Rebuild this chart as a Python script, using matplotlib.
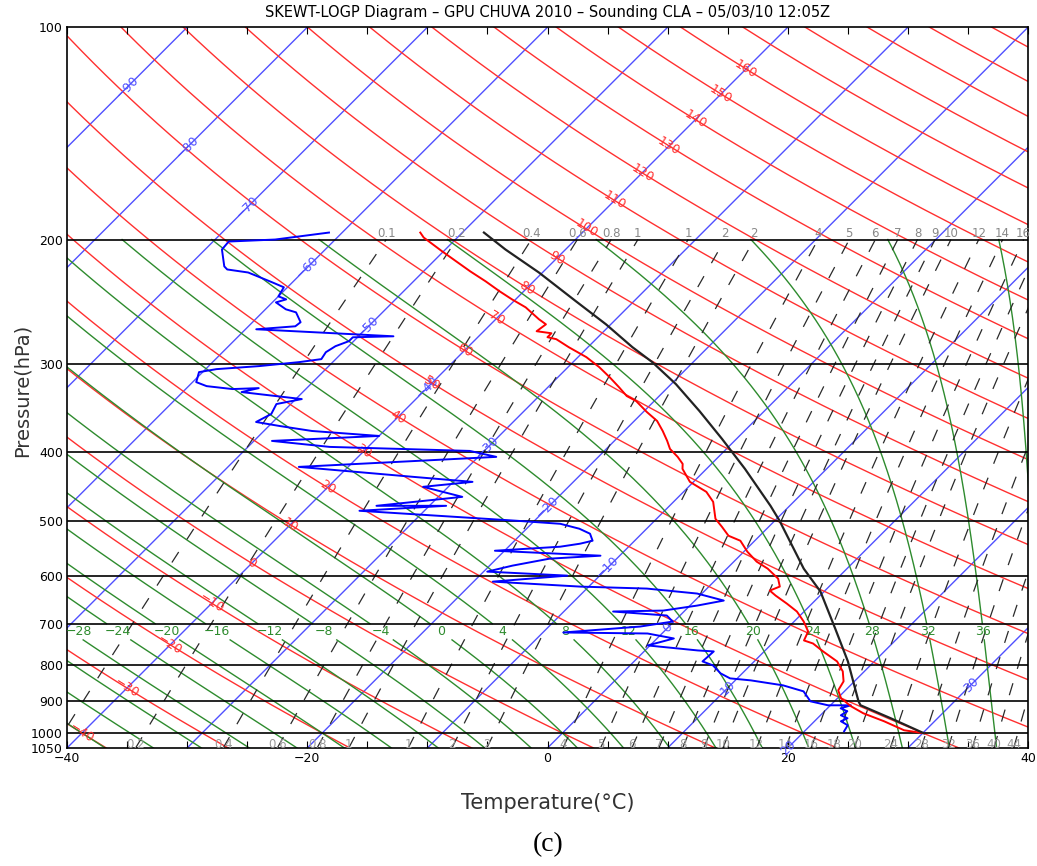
import numpy as np
import matplotlib
matplotlib.use("Agg")
import matplotlib.pyplot as plt
from matplotlib.ticker import NullLocator

# sounding CLA 05/03/10 12:05Z (hPa, degC)
temp_p = [195.5, 198.7, 207.9, 216.9, 221.9, 229.2, 236.8, 243.1, 249.5, 259.4,
          263.7, 269.7, 271.5, 275.0, 276.8, 284.1, 293.5, 303.2, 313.3, 323.6,
          333.2, 338.7, 351.0, 361.4, 373.4, 385.7, 395.9, 406.3, 415.7, 422.5,
          440.8, 455.4, 470.5, 497.2, 510.3, 525.5, 534.1, 553.6, 571.8, 585.0,
          604.4, 620.2, 628.4, 638.7, 655.6, 672.8, 695.1, 718.1, 739.4, 746.7,
          766.3, 791.7, 817.8, 844.9, 870.0, 892.9, 916.5, 937.6, 962.4, 990.9,
          1000.6]
temp_t = [-53.5, -52.8, -50.1, -47.5, -46.1, -44.0, -42.0, -40.3, -38.5, -36.4,
          -35.4, -35.6, -34.2, -34.2, -33.3, -31.6, -29.3, -27.4, -25.7, -24.1,
          -22.7, -21.5, -19.7, -18.1, -16.8, -15.6, -14.7, -13.4, -12.4, -12.0,
          -10.3, -8.1, -6.7, -5.1, -3.9, -2.6, -1.2, 0.3, 1.9, 3.4,
          5.1, 5.9, 5.4, 6.3, 7.9, 9.4, 10.8, 12.0, 12.4, 13.4,
          14.9, 16.9, 18.2, 19.1, 19.4, 20.3, 21.8, 23.4, 25.8, 28.2,
          30.1]

dew_p = [195.5, 200.0, 201.3, 206.6, 218.3, 220.5, 222.7, 229.9, 233.7, 240.7,
         243.1, 245.5, 251.1, 253.6, 261.9, 265.4, 268.0, 274.2, 275.1, 278.6,
         283.2, 288.8, 295.4, 298.3, 302.2, 305.2, 308.2, 318.4, 322.6, 325.7,
         324.7, 328.9, 336.5, 342.0, 353.3, 362.6, 367.4, 373.4, 379.5, 385.7,
         393.3, 398.5, 406.3, 419.8, 433.6, 440.8, 448.0, 462.9, 476.6, 476.6,
         484.4, 500.4, 505.4, 513.6, 522.0, 534.1, 539.3, 544.6, 551.8, 560.8,
         566.3, 579.3, 590.7, 598.5, 610.3, 620.3, 624.3, 634.5, 649.2, 659.9,
         670.7, 672.8, 681.6, 695.2, 706.6, 720.4, 722.8, 734.6, 751.5, 763.9,
         766.3, 791.7, 802.1, 823.2, 836.7, 842.2, 856.0, 872.9, 901.7, 913.5,
         913.5, 922.5, 931.5, 943.7, 953.0, 962.3, 975.0, 994.2]
dew_t = [-61.1, -65.0, -68.7, -68.6, -67.0, -66.5, -64.5, -61.7, -60.3, -60.0,
         -59.1, -59.7, -58.3, -57.2, -56.0, -56.1, -59.1, -47.1, -50.4, -50.4,
         -51.1, -51.4, -51.2, -52.8, -55.8, -59.1, -60.3, -59.7, -58.5, -56.1,
         -54.0, -55.1, -49.5, -51.2, -50.8, -51.4, -49.1, -46.0, -40.0, -48.5,
         -43.2, -31.2, -28.5, -44.1, -33.8, -28.4, -32.1, -28.0, -34.4, -28.6,
         -35.4, -21.5, -17.6, -15.6, -14.3, -13.5, -14.3, -15.7, -20.8, -11.6,
         -15.6, -18.1, -19.7, -12.7, -18.4, -10.7, -5.0, -0.4, 2.4, 0.6,
         -1.8, -5.9, -1.1, -0.1, -2.4, -8.3, -1.2, 1.4, -0.2, 4.4,
         5.8, 5.7, 6.9, 8.2, 9.4, 11.3, 14.4, 16.6, 18.0, 19.8,
         21.7, 21.1, 21.9, 21.7, 22.5, 22.2, 23.1, 23.3]

parcel_p = [195.5, 206.6, 222.7, 244.7, 263.7, 284.1, 298.3, 320.5, 349.9, 383.2,
            422.5, 476.6, 500.4, 585.0, 630.4, 711.1, 791.7, 901.6, 913.4, 953.0,
            1000.6]
parcel_t = [-48.2, -45.0, -40.3, -34.8, -30.4, -26.3, -23.4, -19.6, -15.4, -11.2,
            -6.8, -1.6, 0.4, 6.4, 9.7, 14.0, 17.8, 22.0, 22.5, 26.1,
            30.1]

# background line sets
isotherms = list(range(-100, 50, 10))
isotherm_labels = [-90, -80, -70, -60, -50, -40, -30, -20, -10, 0, 10, 20]
dry_adiabats = list(range(-40, 230, 10))
dry_labels = list(range(-40, 170, 10))
moist_adiabats = list(range(-40, 44, 4))
moist_labels = list(range(-28, 40, 4))
mix_ratios = [0.1, 0.2, 0.4, 0.6, 0.8, 1, 1.5, 2, 2.5, 4, 5, 6, 7, 8, 9, 10,
              12, 14, 16, 18, 20, 24, 28, 32, 36, 40, 44]
mix_labels = ["0.1", "0.2", "0.4", "0.6", "0.8", "1", "1", "2", "2", "4", "5", "6",
              "7", "8", "9", "10", "12", "14", "16", "18", "20", "24", "28", "32",
              "36", "40", "44"]
p_levels = [200, 300, 400, 500, 600, 700, 800, 900, 1000]

title = "SKEWT-LOGP Diagram \u2013 GPU CHUVA 2010 \u2013 Sounding CLA \u2013 05/03/10 12:05Z"

W, H = 1037, 866
fig = plt.figure(figsize=(W / 100, H / 100), dpi=100)
ax = fig.add_axes([67 / W, 118 / H, 961 / W, 721 / H])
ax.set_yscale("log")
ax.set_xlim(-40, 40)
ax.set_ylim(1050, 100)

# skew so that isotherms run at 45 degrees on screen
skew = (721 / np.log(1050 / 100)) / (961 / 80)


def sx(t, p):
    return np.asarray(t) + skew * np.log(1050 / np.asarray(p))


def umin(v):
    s = f"{v:g}"
    return s.replace("-", "\u2212")


BLUE = "#5050ff"
RED = "#ff3030"
GREEN = "#2e8b2e"

p_full = np.geomspace(1050, 100, 300)

# isotherms
for t in isotherms:
    ax.plot(sx(t, p_full), p_full, color=BLUE, lw=1.0, zorder=1)

# dry adiabats
for th in dry_adiabats:
    t = (th + 273.15) * (p_full / 1000) ** 0.286 - 273.15
    ax.plot(sx(t, p_full), p_full, color=RED, lw=1.0, zorder=1)


# moist (pseudo) adiabats
def moist_lapse(tk, p):
    es = 6.112 * np.exp(17.67 * (tk - 273.15) / (tk - 29.65))
    rs = 0.622 * es / (p - es)
    num = 287.04 * tk + 2.501e6 * rs
    den = 1005.7 + 2.501e6 ** 2 * rs * 0.622 / (287.04 * tk ** 2)
    return num / den / p


def integrate(p_arr, t0):
    out = [t0]
    t = t0
    for i in range(len(p_arr) - 1):
        dp = p_arr[i + 1] - p_arr[i]
        k1 = moist_lapse(t, p_arr[i])
        k2 = moist_lapse(t + k1 * dp, p_arr[i + 1])
        t = t + 0.5 * (k1 + k2) * dp
        out.append(t)
    return np.array(out)


t0 = np.array(moist_adiabats, dtype=float) + 273.15
p_up = np.arange(1000, 199, -2.0)
p_dn = np.arange(1000, 1051, 2.0)
t_up = integrate(p_up, t0)
t_dn = integrate(p_dn, t0)
p_m = np.concatenate([p_dn[::-1], p_up[1:]])
t_m = np.concatenate([t_dn[::-1], t_up[1:]]) - 273.15

low = p_m >= 737
high = p_m <= 700
for j, thw in enumerate(moist_adiabats):
    xm = sx(t_m[:, j], p_m)
    ax.plot(xm[low], p_m[low], color=GREEN, lw=1.0, zorder=1)
    ax.plot(xm[high], p_m[high], color=GREEN, lw=1.0, zorder=1)
    if thw in moist_labels:
        xl = np.interp(np.log(718), np.log(p_m[::-1]), xm[::-1])
        xl = max(xl, -39.0)
        ax.text(xl, 718, umin(thw), color=GREEN, fontsize=9, ha="center",
                va="center", zorder=5)

# mixing ratio lines
p_ml = np.geomspace(1050, 200, 200)
for w, lab in zip(mix_ratios, mix_labels):
    e = w * p_ml / (622 + w)
    a = np.log(e / 6.112)
    td = 243.5 * a / (17.67 - a)
    xw = sx(td, p_ml)
    ax.plot(xw, p_ml, color="#2a2a2a", lw=0.9, ls=(0, (10, 12)), zorder=2)
    if -40 < xw[-1] < 40.5:
        ax.text(xw[-1], 196, lab, color="#888888", fontsize=8.5, ha="center",
                va="center", zorder=5)
    if -40 < xw[0] < 40 and w >= 0.2:
        ax.text(xw[0], 1037, lab, color="#999999", fontsize=8.5, ha="center",
                va="center", zorder=5)

# pressure levels
for p in p_levels:
    ax.axhline(p, color="black", lw=1.2, zorder=3)

# isotherm labels, along the 45 deg line from the top-left corner
for t in isotherm_labels:
    lp = (np.log(100 * 1050) + (t + 40) / skew) / 2
    pl = np.exp(lp)
    ax.text(sx(t, pl), pl, umin(t), color=BLUE, fontsize=9, rotation=45,
            ha="center", va="center", zorder=5)
ax.text(sx(30, 855), 855, "30", color=BLUE, fontsize=9, rotation=45,
        ha="center", va="center", zorder=5)

# dry adiabat labels, where each crosses -40 C
for th in dry_labels:
    pl = 1000 * (233.15 / (th + 273.15)) ** (1 / 0.286)
    pa = pl * 0.97
    pb = pl * 1.03
    ta = (th + 273.15) * (pa / 1000) ** 0.286 - 273.15
    tb = (th + 273.15) * (pb / 1000) ** 0.286 - 273.15
    d = ax.transData.transform([[sx(ta, pa), pa], [sx(tb, pb), pb]])
    ang = np.degrees(np.arctan2(d[1, 1] - d[0, 1], d[1, 0] - d[0, 0]))
    ax.text(sx(-40, pl), pl, umin(th), color=RED, fontsize=9, rotation=ang,
            ha="center", va="center", zorder=5)

# sounding
ax.plot(sx(dew_t, dew_p), dew_p, color="#0000ff", lw=1.4, zorder=6)
ax.plot(sx(temp_t, temp_p), temp_p, color="#ff0000", lw=1.4, zorder=6)
ax.plot(sx(parcel_t, parcel_p), parcel_p, color="#222222", lw=1.6, zorder=6)

# axes
ax.yaxis.set_minor_locator(NullLocator())
ax.set_yticks([100, 200, 300, 400, 500, 600, 700, 800, 900, 1000, 1050])
ax.set_yticklabels(["100", "200", "300", "400", "500", "600", "700", "800",
                    "900", "1000", "1050"])
ax.tick_params(axis="y", length=0, labelsize=9, pad=3)
xt = list(range(-40, 41, 5))
ax.set_xticks(xt)
ax.set_xticklabels([umin(v) if v % 20 == 0 else "" for v in xt])
ax.tick_params(axis="x", direction="in", length=5, top=True, labelsize=9,
               pad=3)
for s in ax.spines.values():
    s.set_linewidth(1.2)

fig.text(548 / W, 1 - 13 / H, title, fontsize=10.5, ha="center", va="center")
fig.text(22 / W, 1 - 390 / H, "Pressure(hPa)", rotation=90, fontsize=14,
         color="#333333", ha="center", va="center")
fig.text(548 / W, 1 - 803 / H, "Temperature(\u00b0C)", fontsize=15,
         color="#333333", ha="center", va="center")
fig.text(548 / W, 1 - 845 / H, "(c)", family="Liberation Serif", fontsize=20,
         ha="center", va="center")

fig.savefig("out.png", dpi=100)
